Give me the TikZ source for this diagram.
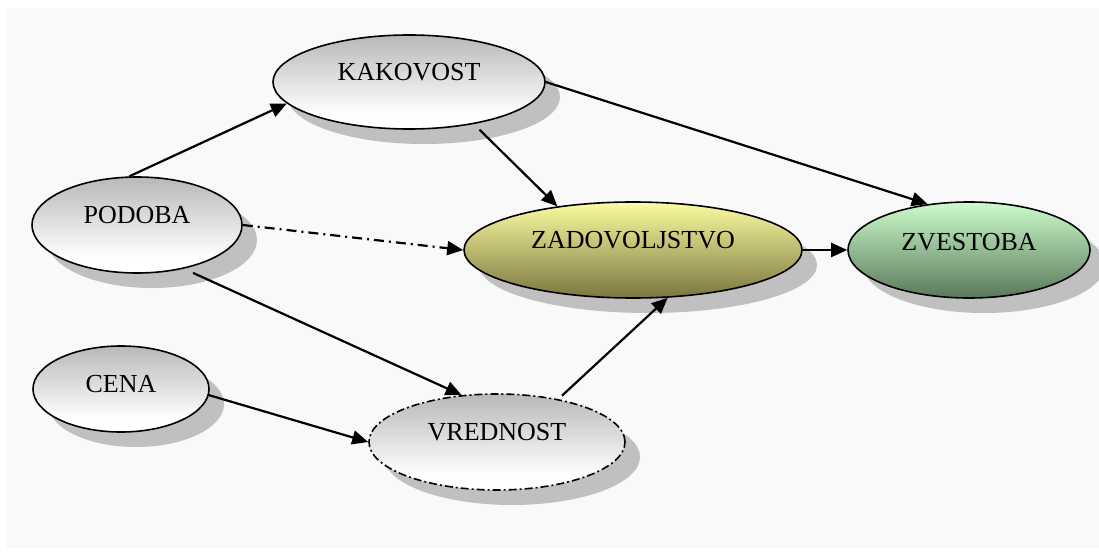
\documentclass[tikz,border=0pt]{standalone}
\usepackage{fontspec}
\setmainfont{Liberation Serif}
\usetikzlibrary{shapes.geometric,shadows,arrows.meta}

\definecolor{panel}{HTML}{F9F9F9}
\definecolor{shadowgrey}{HTML}{C0C0C0}
\definecolor{greytop}{HTML}{B8B8B8}
\definecolor{yellowtop}{HTML}{FCFCA0}
\definecolor{yellowmid}{HTML}{CFCC6C}
\definecolor{yellowbot}{HTML}{7A7640}
\definecolor{greentop}{HTML}{CCFCCC}
\definecolor{greenmid}{HTML}{98C498}
\definecolor{greenbot}{HTML}{5A785A}

% grey at the top, fading to white over the lower part
\pgfdeclareverticalshading{greyfade}{100bp}{color(0bp)=(white); color(25bp)=(white); color(33bp)=(white); color(75bp)=(greytop); color(100bp)=(greytop)}

\newcommand\lbl{\fontsize{26}{30}\selectfont}

\tikzset{
  bubble/.style={ellipse, draw=black, line width=1.6pt, inner sep=0pt,
    drop shadow={shadow xshift=15pt, shadow yshift=-15pt, fill=shadowgrey, opacity=1}},
  greybubble/.style={bubble, shade, shading=greyfade},
  yellowbubble/.style={bubble, top color=yellowtop, middle color=yellowmid, bottom color=yellowbot},
  greenbubble/.style={bubble, top color=greentop, middle color=greenmid, bottom color=greenbot},
  conn/.style={line width=2.2pt, -{Triangle[length=16pt,width=14pt]}},
  dashdot/.style={dash pattern=on 10pt off 5pt on 2pt off 5pt},
  dotborder/.style={dash pattern=on 8pt off 3pt on 2pt off 3pt},
}

\begin{document}
\begin{tikzpicture}[x=1pt, y=-1pt]
  \useasboundingbox (0,0) rectangle (1099,556);
  \fill[white] (0,0) rectangle (1099,556);
  \fill[panel] (6,8) rectangle (1099,548);

  % constructs
  \node[greybubble, minimum width=272pt, minimum height=94pt,
        label={[font=\lbl, yshift=10pt]center:KAKOVOST}] (kak) at (409,82) {};
  \node[greybubble, minimum width=210pt, minimum height=96pt,
        label={[font=\lbl, yshift=10pt]center:PODOBA}] (pod) at (137,225) {};
  \node[greybubble, minimum width=176pt, minimum height=86pt,
        label={[font=\lbl, yshift=5pt]center:CENA}] (cen) at (121,389) {};
  \node[greybubble, dotborder, minimum width=256pt, minimum height=96pt,
        label={[font=\lbl, yshift=10pt]center:VREDNOST}] (vre) at (497,442) {};
  \node[yellowbubble, minimum width=338pt, minimum height=96pt,
        label={[font=\lbl, yshift=9.5pt]center:ZADOVOLJSTVO}] (zad) at (633,250) {};
  \node[greenbubble, minimum width=242pt, minimum height=96pt,
        label={[font=\lbl, yshift=8pt]center:ZVESTOBA}] (zve) at (969,250) {};

  % paths between constructs
  \draw[conn] (pod.99) -- (kak.190);
  \draw[conn, shorten <=8pt] (kak.327) -- (zad.150);
  \draw[conn] (kak.east) -- (zve.132);
  \draw[conn, dashdot] (pod.east) -- (zad.west);
  \draw[conn] (zad.east) -- (zve.west);
  \draw[conn, shorten <=10pt] (pod.317) -- (vre.127);
  \draw[conn] (cen.356) -- (vre.west);
  \draw[conn, shorten <=5pt] (vre.35) -- (zad.306);
\end{tikzpicture}
\end{document}
